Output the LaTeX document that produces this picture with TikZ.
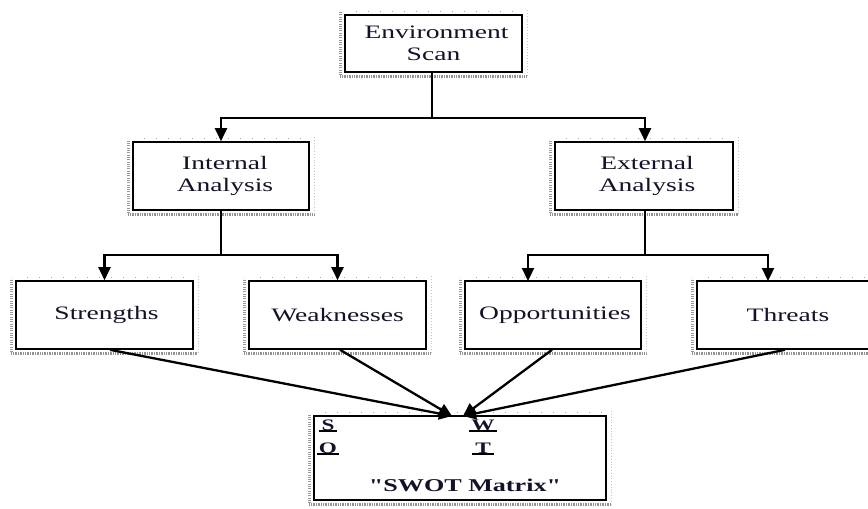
\documentclass[tikz,border=0pt]{standalone}
\usepackage{fontspec}
\setmainfont{Liberation Serif}[FakeStretch=1.45, Ligatures=TeXOff]
\usetikzlibrary{arrows.meta,calc}
\definecolor{txt}{RGB}{18,18,40}
\begin{document}
\begin{tikzpicture}[x=1pt,y=-1pt,
  box/.style={draw=black, line width=1.6pt, fill=white, inner sep=0pt, align=center,
    text=txt, font=\fontsize{19}{22}\selectfont},
  conn/.style={line width=2.3pt, draw=black},
  arr/.style={conn, -{Triangle[length=13pt,width=12pt]}},
  letter/.style={inner sep=0.5pt, text=txt, font=\fontsize{16}{18}\selectfont\bfseries},
  uline/.style={line width=2pt, draw=black}]
\useasboundingbox (0,0) rectangle (868,509);
\clip (0,0) rectangle (868,509);
\fill[white] (0,0) rectangle (868,509);

% boxes
\node[box, minimum width=177pt, minimum height=57pt] (env) at (433.5,43.5) {\hspace*{6pt}Environment\\Scan};
\node[box, minimum width=176pt, minimum height=68pt] (int) at (221,176) {\hspace*{8pt}Internal\\\hspace*{8pt}Analysis};
\node[box, minimum width=178pt, minimum height=68pt] (ext) at (644,176) {\hspace*{6pt}External\\\hspace*{6pt}Analysis};
\node[box, minimum width=177pt, minimum height=68pt] (str) at (104.5,315) {\hspace*{4pt}Strengths};
\node[box, minimum width=177pt, minimum height=68pt] (wea) at (337.5,315) {Weaknesses};
\node[box, minimum width=176pt, minimum height=68pt] (opp) at (553,315) {\hspace*{4pt}Opportunities};
\node[box, minimum width=182pt, minimum height=68pt] (thr) at (788,315) {Threats};
\node[box, minimum width=292pt, minimum height=84pt] (swot) at (460,458) {};

% ruler-like shading round the boxes
\foreach \n in {env,int,ext,str,wea,opp,thr,swot}{
  \draw[gray!85, line width=3pt, dash pattern=on 0.8pt off 0.9pt]
    ([xshift=-4pt,yshift=-3.5pt]\n.south west) -- ([xshift=4pt,yshift=-3.5pt]\n.south east);
  \draw[gray!80, line width=2.5pt, dash pattern=on 0.7pt off 1.6pt]
    ([xshift=-3.5pt,yshift=-2pt]\n.south west) -- ([xshift=-3.5pt,yshift=2pt]\n.north west);
  \draw[gray!45, line width=0.7pt, dash pattern=on 0.8pt off 2pt]
    ([xshift=5pt,yshift=4pt]\n.north east) -- ([xshift=5pt,yshift=-4pt]\n.south east);
  \draw[gray!70, line width=1pt, dash pattern=on 1pt off 11pt]
    ([xshift=12pt,yshift=3pt]\n.north west) -- ([yshift=3pt]\n.north east);
}

% SWOT matrix contents
\node[letter] (s) at (328,425) {S};
\node[letter] (o) at (328,448) {O};
\node[letter] (w) at (483,425) {W};
\node[letter] (t) at (483,448) {T};
\draw[uline] ([xshift=-1.5pt]s.south west) -- ([xshift=1.5pt]s.south east);
\draw[uline] ([xshift=-1.5pt]o.south west) -- ([xshift=1.5pt]o.south east);
\draw[uline] ([xshift=-1.5pt]w.south west) -- ([xshift=1.5pt]w.south east);
\draw[uline] ([xshift=-3pt]t.south west) -- ([xshift=3pt]t.south east);
\node[text=txt, font=\fontsize{18}{20}\selectfont\bfseries] (title) at (465,485) {"SWOT Matrix"};

% tree connectors
\coordinate (j1) at (432,118);
\coordinate (j2) at (221,255);
\coordinate (j3) at (645,255);
\coordinate (oa) at (528,281);
\coordinate (ta) at (768,281);
\draw[conn] (env.south -| j1) -- (j1);
\draw[arr] (j1) -| (int.north);
\draw[arr] (j1) -| (ext.north -| j3);
\draw[conn] (int.south) -- (j2);
\draw[arr] (j2) -| (str.north);
\draw[arr] (j2) -| (wea.north);
\draw[conn] (ext.south -| j3) -- (j3);
\draw[arr] (j3) -| (oa);
\draw[arr] (j3) -| (ta);

% lines into the SWOT matrix
\coordinate (lt) at (452,416);
\coordinate (rt) at (463,416);
\coordinate (sb) at (110,349);
\coordinate (wb) at (340,349);
\coordinate (ob) at (552,349);
\coordinate (tb) at (785,349);
\draw[arr] (str.south -| sb) -- (lt);
\draw[arr] (wea.south -| wb) -- (lt);
\draw[arr] (opp.south -| ob) -- (rt);
\draw[arr] (thr.south -| tb) -- (rt);
\end{tikzpicture}
\end{document}
